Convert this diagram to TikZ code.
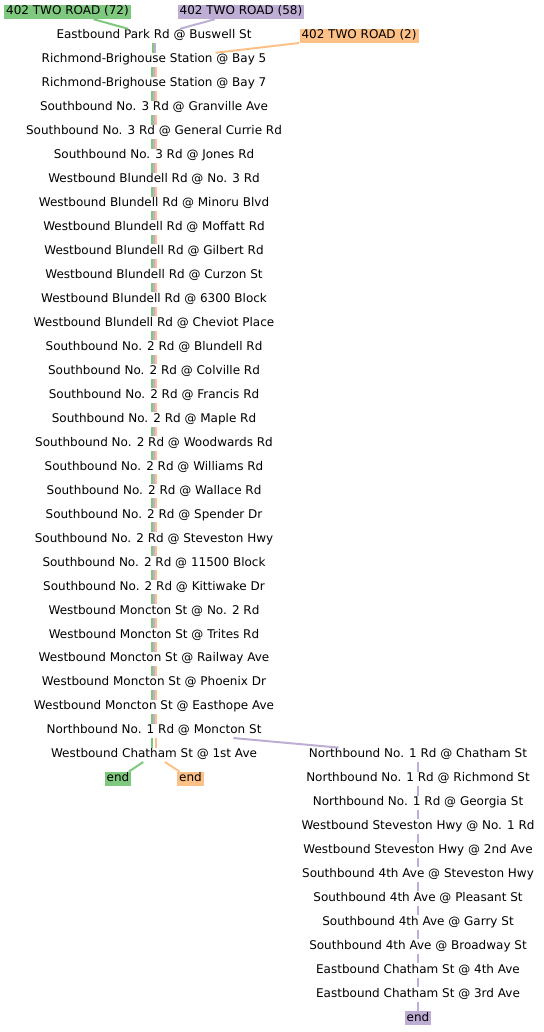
\documentclass[tikz,border=0pt]{standalone}
\usepackage{fontspec}
\setmainfont{DejaVu Sans}
\definecolor{rtA}{HTML}{7FC97F}
\definecolor{rtB}{HTML}{BEAED4}
\definecolor{rtC}{HTML}{FDC086}
\begin{document}
\begin{tikzpicture}[x=1pt,y=-1pt,font=\fontsize{12}{14}\selectfont,
  stop/.style={inner xsep=2pt,inner ysep=1pt,text height=9pt,text depth=3pt},
  tag/.style={stop,fill=#1},
  leg/.style={line width=2pt,draw=#1}]
  \useasboundingbox (0,0) rectangle (543,1032);
  % route heads
  \node[tag=rtA] (route72) at (67.5,12) {402 TWO ROAD (72)};
  \node[tag=rtB] (route58) at (241,12) {402 TWO ROAD (58)};
  \node[tag=rtC] (route2) at (359,36) {402 TWO ROAD (2)};
  % main column
  \foreach \s [count=\i] in {Eastbound Park Rd @ Buswell St,
    Richmond-Brighouse Station @ Bay 5, Richmond-Brighouse Station @ Bay 7,
    Southbound No. 3 Rd @ Granville Ave, Southbound No. 3 Rd @ General Currie Rd,
    Southbound No. 3 Rd @ Jones Rd, Westbound Blundell Rd @ No. 3 Rd,
    Westbound Blundell Rd @ Minoru Blvd, Westbound Blundell Rd @ Moffatt Rd,
    Westbound Blundell Rd @ Gilbert Rd, Westbound Blundell Rd @ Curzon St,
    Westbound Blundell Rd @ 6300 Block, Westbound Blundell Rd @ Cheviot Place,
    Southbound No. 2 Rd @ Blundell Rd, Southbound No. 2 Rd @ Colville Rd,
    Southbound No. 2 Rd @ Francis Rd, Southbound No. 2 Rd @ Maple Rd,
    Southbound No. 2 Rd @ Woodwards Rd, Southbound No. 2 Rd @ Williams Rd,
    Southbound No. 2 Rd @ Wallace Rd, Southbound No. 2 Rd @ Spender Dr,
    Southbound No. 2 Rd @ Steveston Hwy, Southbound No. 2 Rd @ 11500 Block,
    Southbound No. 2 Rd @ Kittiwake Dr, Westbound Moncton St @ No. 2 Rd,
    Westbound Moncton St @ Trites Rd, Westbound Moncton St @ Railway Ave,
    Westbound Moncton St @ Phoenix Dr, Westbound Moncton St @ Easthope Ave,
    Northbound No. 1 Rd @ Moncton St, Westbound Chatham St @ 1st Ave}
    \node[stop] (l\i) at (154,{36+23.96*(\i-1)}) {\s};
  % branch of the (58)
  \foreach \s [count=\i] in {Northbound No. 1 Rd @ Chatham St,
    Northbound No. 1 Rd @ Richmond St, Northbound No. 1 Rd @ Georgia St,
    Westbound Steveston Hwy @ No. 1 Rd, Westbound Steveston Hwy @ 2nd Ave,
    Southbound 4th Ave @ Steveston Hwy, Southbound 4th Ave @ Pleasant St,
    Southbound 4th Ave @ Garry St, Southbound 4th Ave @ Broadway St,
    Eastbound Chatham St @ 4th Ave, Eastbound Chatham St @ 3rd Ave}
    \node[stop] (r\i) at (418,{36+23.96*(\i+29)}) {\s};
  \node[tag=rtA] (end72) at (118,778.8) {end};
  \node[tag=rtC] (end2) at (190.5,778.8) {end};
  \node[tag=rtB] (end58) at (418,1018.4) {end};
  % legs
  \draw[leg=rtA] (route72) -- (l1);
  \draw[leg=rtB] (route58) -- (l1);
  \draw[leg=rtC] (route2) -- (l2);
  \draw[leg=rtA] ([xshift=-1pt]l1.south) -- ([xshift=-1pt]l2.north);
  \draw[leg=rtB] ([xshift=1pt]l1.south) -- ([xshift=1pt]l2.north);
  \foreach \i [evaluate=\i as \j using int(\i+1)] in {2,...,29} {
    \draw[leg=rtA] ([xshift=-2pt]l\i.south) -- ([xshift=-2pt]l\j.north);
    \draw[leg=rtB] (l\i.south) -- (l\j.north);
    \draw[leg=rtC] ([xshift=2pt]l\i.south) -- ([xshift=2pt]l\j.north);
  }
  \draw[leg=rtA] ([xshift=-2pt]l30.south) -- ([xshift=-2pt]l31.north);
  \draw[leg=rtC] ([xshift=2pt]l30.south) -- ([xshift=2pt]l31.north);
  \draw[leg=rtB] (l30) -- (r1);
  \foreach \i [evaluate=\i as \j using int(\i+1)] in {1,...,10}
    \draw[leg=rtB] (r\i.south) -- (r\j.north);
  \draw[leg=rtB] (r11) -- (end58);
  \draw[leg=rtA] (l31) -- (end72);
  \draw[leg=rtC] (l31) -- (end2);
\end{tikzpicture}
\end{document}
